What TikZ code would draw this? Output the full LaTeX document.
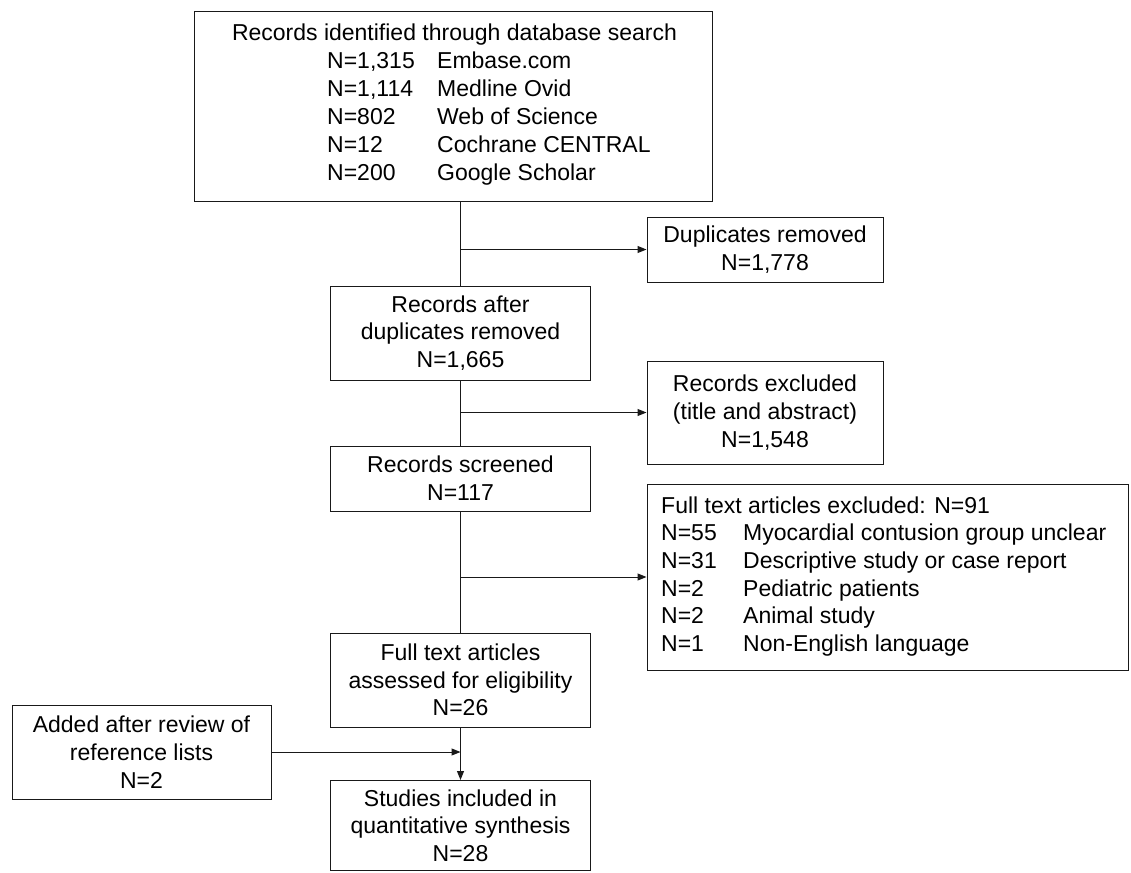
\documentclass[tikz,border=0pt]{standalone}
\usepackage{fontspec}
\setmainfont{Liberation Sans}
\usetikzlibrary{arrows.meta}
\begin{document}
\begin{tikzpicture}[x=1pt,y=-1pt,
  every node/.style={font=\fontsize{23}{27.7}\selectfont, text=black},
  box/.style={draw=black!90, line width=1pt, rectangle, align=center, inner sep=0pt},
  plain/.style={inner sep=0pt},
  conn/.style={draw=black!90, line width=1pt},
  arr/.style={conn, -{Triangle[length=9pt,width=7pt]}}]
\useasboundingbox (0,0) rectangle (1131,872);
% boxes
\node[box, minimum width=518pt, minimum height=189pt] (top) at (453,106.5) {};
\node[plain, anchor=base] (toptitle) at (454.5,41) {Records identified through database search};
\node[plain, anchor=base west, font=\fontsize{23}{28}\selectfont] (toplist) at (327,69) {\begin{tabular}[t]{@{}p{110pt}@{}l@{}}
N=1,315 & Embase.com\\
N=1,114 & Medline Ovid\\
N=802 & Web of Science\\
N=12 & Cochrane CENTRAL\\
N=200 & Google Scholar
\end{tabular}};
\node[box, minimum width=236pt, minimum height=65pt] (dup) at (765,249.5) {Duplicates removed\\N=1,778};
\node[box, minimum width=260pt, minimum height=94pt] (after) at (460.5,333) {Records after\\duplicates removed\\N=1,665};
\node[box, minimum width=236pt, minimum height=103pt] (excl) at (765,412.5) {Records excluded\\(title and abstract)\\N=1,548};
\node[box, minimum width=260pt, minimum height=65pt] (screened) at (460.5,478.5) {Records screened\\N=117};
\node[box, minimum width=481pt, minimum height=186pt] (ftex) at (887.5,577) {};
\node[plain, anchor=base west] (ftextxt) at (661,513) {\begin{tabular}[t]{@{}p{82pt}@{}l@{}}
\multicolumn{2}{@{}l@{}}{Full text articles excluded: N=91}\\
N=55 & Myocardial contusion group unclear\\
N=31 & Descriptive study or case report\\
N=2 & Pediatric patients\\
N=2 & Animal study\\
N=1 & Non-English language
\end{tabular}};
\node[box, minimum width=260pt, minimum height=94pt] (assessed) at (460.5,680) {Full text articles\\assessed for eligibility\\N=26};
\node[box, minimum width=259pt, minimum height=94pt] (added) at (141.5,752) {Added after review of\\reference lists\\N=2};
\node[box, minimum width=260pt, minimum height=90pt] (studies) at (460.5,825.5) {Studies included in\\quantitative synthesis\\N=28};
% junction coordinates
\coordinate (b1) at (after.north |- dup.west);
\coordinate (b2) at (after.north |- excl.west);
\coordinate (b3) at (after.north |- ftex.west);
\coordinate (j) at (assessed.south |- added.east);
% connectors
\draw[conn] (top.south -| after.north) -- (after.north);
\draw[arr] (b1) -- (dup.west);
\draw[conn] (after.south) -- (screened.north);
\draw[arr] (b2) -- (excl.west);
\draw[conn] (screened.south) -- (assessed.north);
\draw[arr] (b3) -- (ftex.west);
\draw[arr] (added.east) -- (j);
\draw[arr] (assessed.south) -- (studies.north);
\end{tikzpicture}
\end{document}
